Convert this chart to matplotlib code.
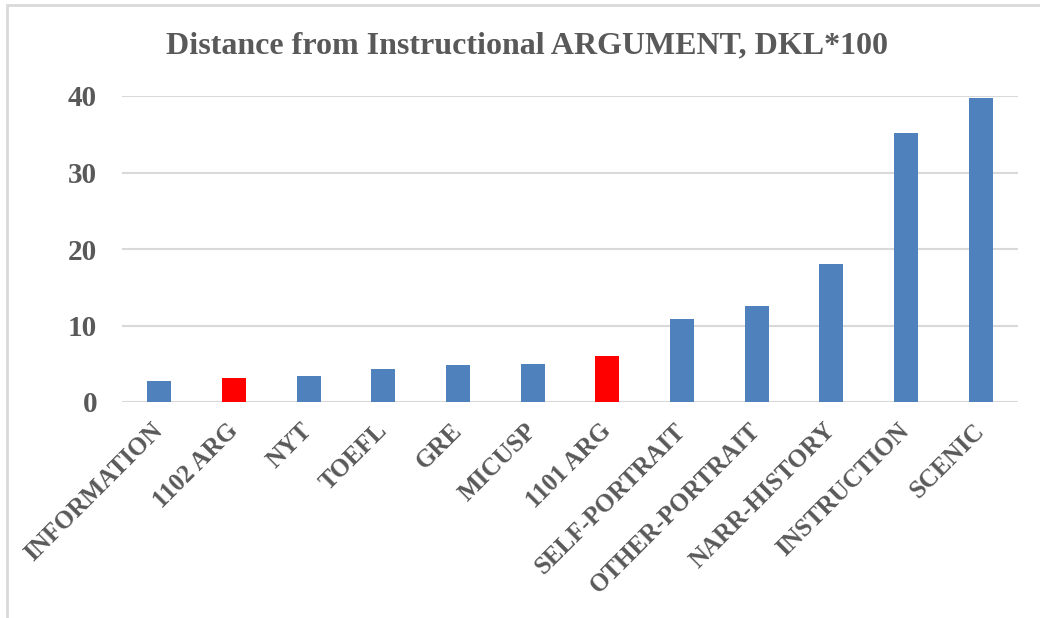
import matplotlib.pyplot as plt
from matplotlib.patches import Rectangle

categories = ["INFORMATION", "1102 ARG", "NYT", "TOEFL", "GRE", "MICUSP",
              "1101 ARG", "SELF-PORTRAIT", "OTHER-PORTRAIT", "NARR-HISTORY",
              "INSTRUCTION", "SCENIC"]
values = [2.8, 3.2, 3.4, 4.3, 4.9, 5.0, 6.0, 10.8, 12.5, 18.0, 35.2, 39.8]
highlight = ["1102 ARG", "1101 ARG"]
yticks = [0, 10, 20, 30, 40]

blue = "#4F81BD"
red = "#FF0000"
text_color = "#595959"
grid_color = "#D9D9D9"
font = ["Liberation Serif", "DejaVu Serif"]

fig = plt.figure(figsize=(10.4, 6.18), dpi=100)
ax = fig.add_axes([122 / 1040, 1 - 402 / 618, (1018 - 122) / 1040, 306 / 618])

colors = [red if c in highlight else blue for c in categories]
x = range(len(categories))
ax.bar(x, values, width=0.32, color=colors, zorder=3)

ax.set_xlim(-0.5, len(categories) - 0.5)
ax.set_ylim(0, 40)
ax.set_yticks(yticks)
ax.set_yticklabels([str(t) for t in yticks], fontsize=21, fontweight="bold",
                   color=text_color, family=font)
ax.set_xticks(list(x))
ax.set_xticklabels(categories, rotation=45, ha="right", va="center",
                   rotation_mode="anchor", fontsize=18, fontweight="bold",
                   color=text_color, family=font)
ax.tick_params(axis="both", length=0)
ax.tick_params(axis="y", pad=18)
ax.tick_params(axis="x", pad=18)
ax.grid(axis="y", color=grid_color, linewidth=1.5, zorder=0)
for s in ax.spines.values():
    s.set_visible(False)

fig.text(0.5 * (165 + 888) / 1040, 1 - 46 / 618,
         "Distance from Instructional ARGUMENT, DKL*100",
         ha="center", va="center", fontsize=23, fontweight="bold",
         color=text_color, family=font)

# light frame around the chart area
fig.patches.append(Rectangle((7 / 1040, -0.1), 1.2, 1 - 5 / 618 + 0.1,
                             transform=fig.transFigure, fill=False,
                             edgecolor=grid_color, linewidth=2))

fig.savefig("out.png", dpi=100)
